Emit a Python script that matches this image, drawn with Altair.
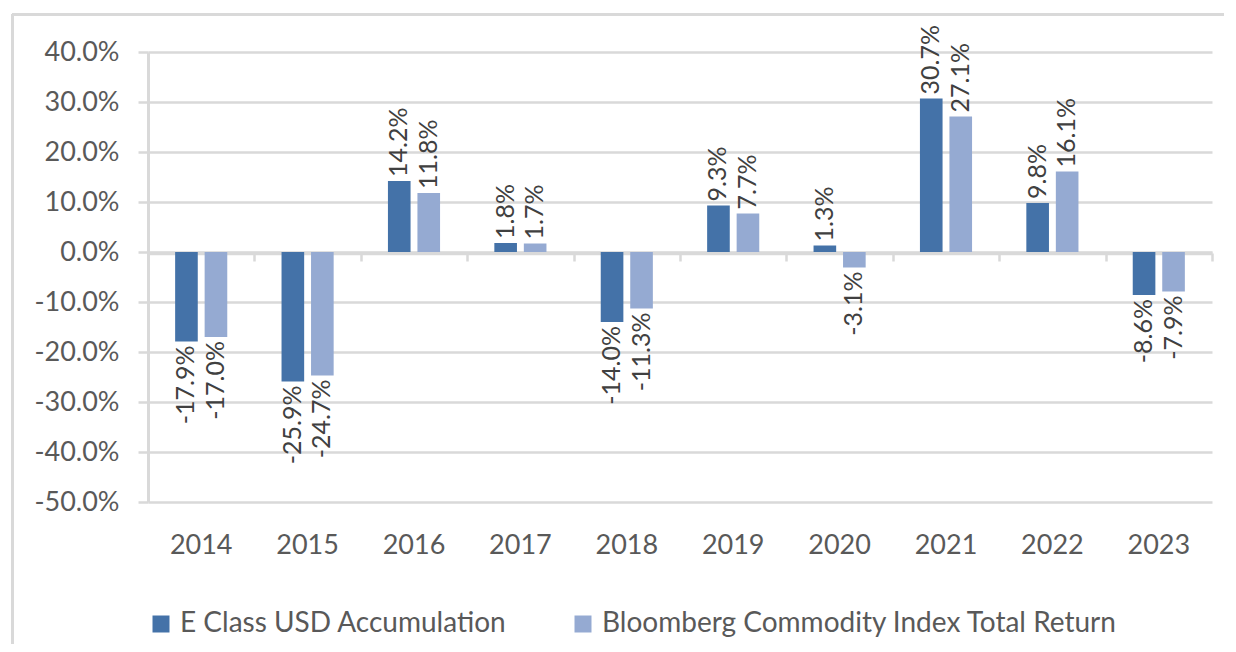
import altair as alt
import pandas as pd

years = ["2014", "2015", "2016", "2017", "2018", "2019", "2020", "2021", "2022", "2023"]
fund = [-17.9, -25.9, 14.2, 1.8, -14.0, 9.3, 1.3, 30.7, 9.8, -8.6]
bench = [-17.0, -24.7, 11.8, 1.7, -11.3, 7.7, -3.1, 27.1, 16.1, -7.9]
series_names = ["E Class USD Accumulation", "Bloomberg Commodity Index Total Return"]
colors = ["#4472A8", "#95AAD2"]
y_tick_values = [-0.5, -0.4, -0.3, -0.2, -0.1, 0.0, 0.1, 0.2, 0.3, 0.4]

FONT = "Lato"
GRID = "#d9d9d9"
TXT = "#595959"

rows = []
for i, yr in enumerate(years):
    for name, vals in zip(series_names, [fund, bench]):
        v = vals[i]
        rows.append({"year": yr, "series": name, "value": v / 100.0, "label": f"{v:.1f}%"})
df = pd.DataFrame(rows)

W, H = 1064, 450

x_main = alt.X(
    "year:N", sort=years,
    scale=alt.Scale(paddingInner=0, paddingOuter=0),
    axis=alt.Axis(orient="bottom", domain=False, ticks=False, labelAngle=0,
                  labelPadding=30, labelFont=FONT, labelFontSize=27,
                  labelColor=TXT, title=None, grid=False),
)
x_plain = alt.X("year:N", sort=years, axis=None)
x_off = alt.XOffset("series:N", sort=series_names,
                    scale=alt.Scale(paddingInner=0.233, paddingOuter=0.92))
y_enc = alt.Y(
    "value:Q",
    scale=alt.Scale(domain=[-0.5, 0.4], nice=False, zero=False),
    axis=alt.Axis(values=y_tick_values, format=".1%",
                  labelExpr="replace(datum.label, '\u2212', '-')",
                  title=None, grid=True, gridColor=GRID, gridWidth=2.5,
                  domain=True, domainColor=GRID, domainWidth=3,
                  ticks=True, tickColor=GRID, tickWidth=2.5, tickSize=10,
                  labelPadding=19, labelFont=FONT, labelFontSize=27,
                  labelColor=TXT),
)

base = alt.Chart(df)

bars = base.mark_bar().encode(
    x=x_main,
    xOffset=x_off,
    y=y_enc,
    color=alt.Color(
        "series:N", sort=series_names,
        scale=alt.Scale(domain=series_names, range=colors),
        legend=alt.Legend(orient="none", legendX=-1, legendY=558,
                          direction="horizontal", title=None, padding=0,
                          symbolType="square", symbolSize=289,
                          symbolStrokeWidth=0, labelFont=FONT,
                          labelFontSize=28, labelColor=TXT, labelOffset=5,
                          columnPadding=62, labelLimit=1000),
    ),
)

zero_axis = base.mark_point(opacity=0).encode(
    x=alt.X("year:N", sort=years,
            axis=alt.Axis(orient="bottom", offset=-249, labels=False,
                          domain=True, domainColor=GRID, domainWidth=3.5,
                          ticks=True, tickBand="extent", tickSize=8,
                          tickColor=GRID, tickWidth=2.5, title=None,
                          grid=False)),
    y=alt.datum(0),
)

pos_labels = base.transform_filter("datum.value >= 0").mark_text(
    angle=270, align="left", baseline="middle", dx=4,
    font=FONT, fontSize=25, color="#404040",
).encode(x=x_plain, xOffset=x_off, y=alt.Y("value:Q"), text="label:N")

neg_labels = base.transform_filter("datum.value < 0").mark_text(
    angle=270, align="right", baseline="middle", dx=-4,
    font=FONT, fontSize=25, color="#404040",
).encode(x=x_plain, xOffset=x_off, y=alt.Y("value:Q"), text="label:N")

frame_df = pd.DataFrame({"k": [0]})
frame_top = alt.Chart(frame_df).mark_rule(color=GRID, strokeWidth=3).encode(
    x=alt.value(-136), x2=alt.value(1090), y=alt.value(-37.5))
frame_left = alt.Chart(frame_df).mark_rule(color=GRID, strokeWidth=3).encode(
    x=alt.value(-135.5), y=alt.value(-38), y2=alt.value(600))

chart = alt.layer(
    frame_top, frame_left, zero_axis, bars, pos_labels, neg_labels
).resolve_axis(x="independent").properties(
    width=W, height=H,
    autosize=alt.AutoSizeParams(type="none"),
    padding={"left": 140, "top": 44, "right": 12, "bottom": 142},
    background="white",
).configure_view(stroke=None)

chart.save("out.html", embed_options={"renderer": "svg", "actions": False})
